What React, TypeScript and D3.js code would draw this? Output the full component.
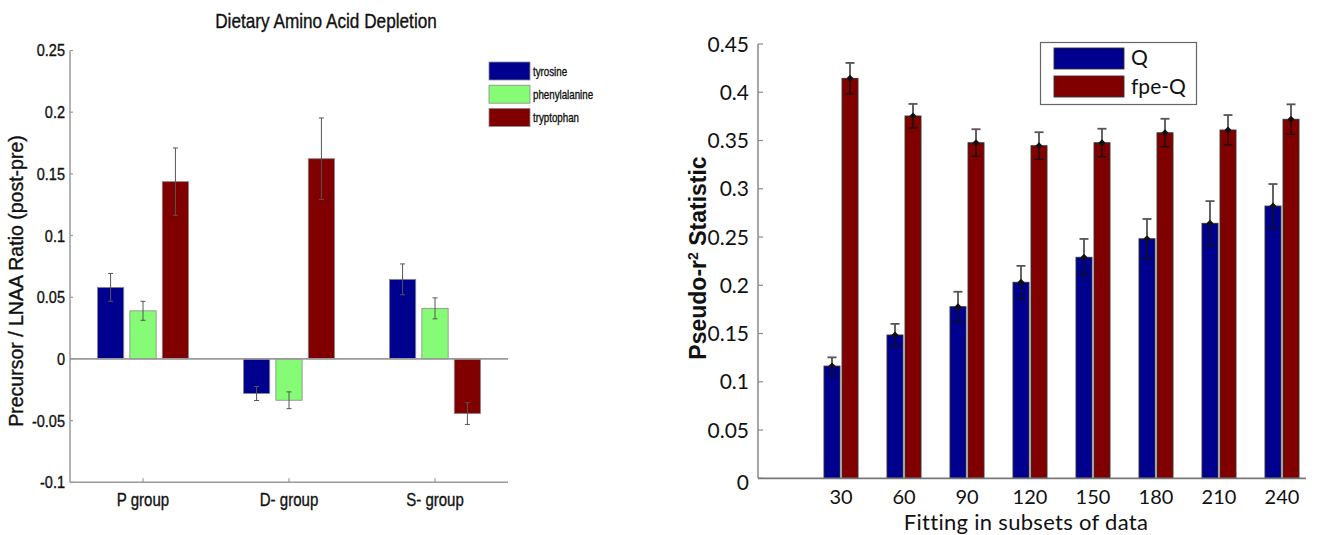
import React from "react";
import * as d3 from "d3";

// ---------- Left chart data ----------
const groupsL = ["P group", "D- group", "S- group"];
const seriesNamesL = ["tyrosine", "phenylalanine", "tryptophan"];
const tyrosine = [0.058, -0.028, 0.0645];
const tyrosineErr = [0.0113, 0.0057, 0.0125];
const phenylalanine = [0.039, -0.0335, 0.041];
const phenylalanineErr = [0.0077, 0.0068, 0.0085];
const tryptophan = [0.1437, 0.1623, -0.0443];
const tryptophanErr = [0.0273, 0.033, 0.0088];
const yTicksL = [-0.1, -0.05, 0, 0.05, 0.1, 0.15, 0.2, 0.25];
const colorsL = ["#00008f", "#86fb76", "#800000"];

// ---------- Right chart data ----------
const subsets = ["30", "60", "90", "120", "150", "180", "210", "240"];
const seriesNamesR = ["Q", "fpe-Q"];
const qVals = [0.1163, 0.1485, 0.1778, 0.2031, 0.229, 0.2482, 0.2642, 0.2821];
const qErr = [0.009, 0.0115, 0.0155, 0.017, 0.019, 0.0205, 0.023, 0.0228];
const fpeVals = [0.4144, 0.3754, 0.3477, 0.3446, 0.3477, 0.358, 0.3609, 0.372];
const fpeErr = [0.016, 0.0125, 0.014, 0.014, 0.0145, 0.0145, 0.0155, 0.0155];
const yTicksR = [0, 0.05, 0.1, 0.15, 0.2, 0.25, 0.3, 0.35, 0.4, 0.45];
const colorsR = ["#00008f", "#800000"];

const fmt = (v: number) => String(+v.toFixed(2));

const fontL = "'Liberation Sans', Arial, sans-serif";
const fontR = "Lato, 'Open Sans', sans-serif";

// condensed text (the left panel of the source figure is horizontally squeezed)
function CText(props: {
  x: number;
  y: number;
  sx: number;
  size: number;
  anchor?: string;
  dy?: string;
  children: React.ReactNode;
}) {
  return (
    <text
      transform={`translate(${props.x},${props.y}) scale(${props.sx},1)`}
      dy={props.dy}
      textAnchor={props.anchor || "start"}
      fontFamily={fontL}
      fontSize={props.size}
      fill="#111"
      stroke="#111"
      strokeWidth={0.35}
    >
      {props.children}
    </text>
  );
}

export default function App() {
  // Left scales
  const xL = d3.scaleLinear().domain([0.5, 3.5]).range([70, 508]);
  const yL = d3.scaleLinear().domain([-0.1, 0.25]).range([482.3, 50.5]);
  const offL = [-0.222, 0, 0.222];
  const bwL = xL(0.18) - xL(0);
  const valsL = [tyrosine, phenylalanine, tryptophan];
  const errsL = [tyrosineErr, phenylalanineErr, tryptophanErr];

  // Right scales
  const xR = d3.scaleLinear().domain([0, 9]).range([778, 1345]);
  const yR = d3.scaleLinear().domain([0, 0.45]).range([478.3, 44]);
  const axisXR = 758;
  const offR = [-0.143, 0.143];
  const bwR = xR(0.254) - xR(0);
  const valsR = [qVals, fpeVals];
  const errsR = [qErr, fpeErr];

  return (
    <svg
      width={1317}
      height={535}
      style={{ position: "absolute", left: 0, top: 0, background: "#fff" }}
    >
      {/* ================= LEFT CHART ================= */}
      <CText x={326} y={28} sx={0.86} size={20} anchor="middle">
        Dietary Amino Acid Depletion
      </CText>
      {/* axes */}
      <line x1={xL(0.5)} x2={xL(0.5)} y1={yL(0.25)} y2={yL(-0.1)} stroke="#9a9a9a" strokeWidth={1.5} />
      <line x1={xL(0.5)} x2={xL(3.5)} y1={yL(-0.1)} y2={yL(-0.1)} stroke="#9a9a9a" strokeWidth={1.5} />
      {yTicksL.map((t) => (
        <g key={"ylt" + t}>
          <line x1={xL(0.5)} x2={xL(0.5) + 3} y1={yL(t)} y2={yL(t)} stroke="#9a9a9a" strokeWidth={1.2} />
          <CText x={65} y={yL(t)} dy="0.36em" sx={0.88} size={16.5} anchor="end">
            {fmt(t)}
          </CText>
        </g>
      ))}
      {groupsL.map((g, i) => (
        <g key={"xl" + g}>
          <line x1={xL(i + 1)} x2={xL(i + 1)} y1={yL(-0.1)} y2={yL(-0.1) - 4} stroke="#9a9a9a" strokeWidth={1.2} />
          <CText x={xL(i + 1)} y={506} sx={0.86} size={17.5} anchor="middle">
            {g}
          </CText>
        </g>
      ))}
      {/* bars */}
      {valsL.map((vals, s) =>
        vals.map((v, i) => {
          const cx = xL(i + 1 + offL[s]);
          return (
            <rect
              key={"bl" + s + "-" + i}
              x={cx - bwL / 2}
              y={Math.min(yL(v), yL(0))}
              width={bwL}
              height={Math.abs(yL(v) - yL(0))}
              fill={colorsL[s]}
              stroke="#8a8a8a"
              strokeWidth={0.8}
            />
          );
        })
      )}
      {/* zero line */}
      <line x1={xL(0.5)} x2={xL(3.5)} y1={yL(0)} y2={yL(0)} stroke="#9a9a9a" strokeWidth={1.8} />
      {/* error bars */}
      {valsL.map((vals, s) =>
        vals.map((v, i) => {
          const cx = xL(i + 1 + offL[s]);
          const e = errsL[s][i];
          return (
            <g key={"el" + s + "-" + i} stroke="#555" strokeWidth={1}>
              <line x1={cx} x2={cx} y1={yL(v + e)} y2={yL(v - e)} />
              <line x1={cx - 2.5} x2={cx + 2.5} y1={yL(v + e)} y2={yL(v + e)} />
              <line x1={cx - 2.5} x2={cx + 2.5} y1={yL(v - e)} y2={yL(v - e)} />
            </g>
          );
        })
      )}
      {/* legend */}
      {seriesNamesL.map((n, s) => (
        <g key={"lgl" + n}>
          <rect x={489} y={62 + s * 23.2} width={41} height={18} fill={colorsL[s]} stroke="#8a8a8a" strokeWidth={0.8} />
          <CText x={533} y={62 + s * 23.2 + 13.5} sx={0.78} size={12.5}>
            {n}
          </CText>
        </g>
      ))}
      <text
        transform={`translate(23,281) rotate(-90)`}
        textAnchor="middle"
        fontFamily={fontL}
        fontSize={19.5}
        fill="#111"
        stroke="#111"
        strokeWidth={0.35}
      >
        Precursor / LNAA Ratio (post-pre)
      </text>

      {/* ================= RIGHT CHART ================= */}
      <line x1={axisXR} x2={axisXR} y1={yR(0.45)} y2={yR(0)} stroke="#8a8a8a" strokeWidth={1.5} />
      {yTicksR.map((t) => (
        <g key={"yrt" + t}>
          <line x1={axisXR} x2={axisXR + 5} y1={yR(t)} y2={yR(t)} stroke="#8a8a8a" strokeWidth={1.2} />
          <text x={749} y={yR(t) + (t === 0 ? 4 : 0)} dy="0.36em" textAnchor="end" fontFamily={fontR} fontSize={21} fill="#111">
            {fmt(t)}
          </text>
        </g>
      ))}
      {/* bars */}
      {valsR.map((vals, s) =>
        vals.map((v, i) => {
          const cx = xR(i + 1 + offR[s]);
          return (
            <rect
              key={"br" + s + "-" + i}
              x={cx - bwR / 2}
              y={yR(v)}
              width={bwR}
              height={yR(0) - yR(v)}
              fill={colorsR[s]}
              stroke="#333"
              strokeWidth={0.9}
            />
          );
        })
      )}
      <line x1={axisXR} x2={1306} y1={yR(0)} y2={yR(0)} stroke="#777" strokeWidth={1.8} />
      {/* error bars */}
      {valsR.map((vals, s) =>
        vals.map((v, i) => {
          const cx = xR(i + 1 + offR[s]);
          const e = errsR[s][i];
          return (
            <g key={"er" + s + "-" + i} stroke="#111" strokeWidth={1.3}>
              <line x1={cx} x2={cx} y1={yR(v + e)} y2={yR(v - e)} />
              <line x1={cx - 4.5} x2={cx + 4.5} y1={yR(v + e)} y2={yR(v + e)} stroke="#555" strokeWidth={1.8} />
              <line x1={cx - 4.5} x2={cx + 4.5} y1={yR(v - e)} y2={yR(v - e)} />
              <path d={`M${cx},${yR(v) - 3.5} L${cx + 3.5},${yR(v)} L${cx},${yR(v) + 3.5} L${cx - 3.5},${yR(v)} Z`} fill="#111" stroke="none" />
            </g>
          );
        })
      )}
      {subsets.map((lab, i) => (
        <text key={"xr" + lab} x={xR(i + 1)} y={504} textAnchor="middle" fontFamily={fontR} fontSize={20} fill="#111">
          {lab}
        </text>
      ))}
      <text x={1026} y={530.2} textAnchor="middle" fontFamily={fontR} fontSize={22} letterSpacing={0.3} fill="#111">
        Fitting in subsets of data
      </text>
      {/* legend */}
      <rect x={1040.5} y={42.5} width={156} height={62} fill="#fff" stroke="#666" strokeWidth={1.2} />
      {seriesNamesR.map((n, s) => (
        <g key={"lgr" + n}>
          <rect x={1054} y={48 + s * 28} width={70} height={21} fill={colorsR[s]} stroke="#333" strokeWidth={0.9} />
          <text x={1131} y={65 + s * 29} fontFamily={fontR} fontSize={21} fill="#111">
            {n}
          </text>
        </g>
      ))}
      <text
        transform={`translate(706,258) rotate(-90)`}
        textAnchor="middle"
        fontFamily={fontL}
        fontSize={23}
        fontWeight="bold"
        fill="#111"
      >
        Pseudo-r<tspan dy={-8.5} fontSize={14}>2</tspan><tspan dy={8.5}> Statistic</tspan>
      </text>
    </svg>
  );
}
